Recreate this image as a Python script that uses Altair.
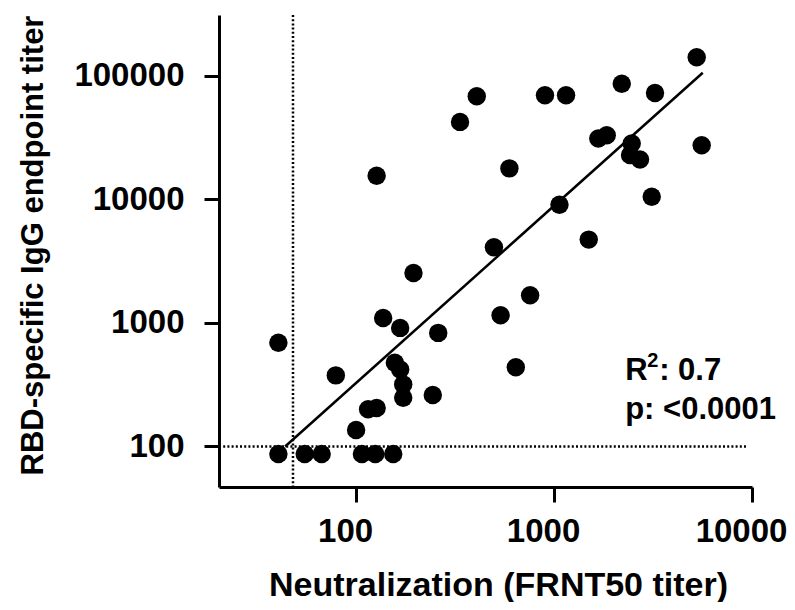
import altair as alt
import pandas as pd

# Neutralization (FRNT50 titer) and RBD-specific IgG endpoint titer
frnt50 = [5256, 2198, 3236, 407, 335, 900, 1150, 1674, 1846, 2468, 2420, 2718,
          5570, 3115, 595, 1065, 1497, 497, 195, 127, 757, 537, 641, 40.5,
          79, 137, 167, 260, 157, 167, 173, 173, 244, 115, 127, 100,
          40.5, 55, 67, 107, 125, 154]
igg = [141000, 86100, 72400, 68100, 42300, 69400, 69400, 31000, 33000, 28300, 22800, 21000,
       27400, 10500, 17800, 9040, 4720, 4090, 2530, 15500, 1676, 1152, 438, 690,
       376, 1097, 911, 830, 476, 420, 318, 248, 261, 200, 205, 136,
       87, 87, 87, 87, 87, 87]

# regression line end points
fit_x = [43.8, 5640]
fit_y = [100, 105700]

# limit-of-detection reference lines
lod_x = [48]
lod_y = [100]
lod_y_xrange = [20.3, 9550]

x_ticks = [100, 1000, 10000]
y_ticks = [100, 1000, 10000, 100000]

# annotation: "R", superscript "2", ": 0.7" on line 1; p-value on line 2
ann_x = 2287
ann_y = [343, 166]
ann_line1 = ["R", "2", ": 0.7"]
ann_line2 = "p: <0.0001"

FONT = "Liberation Sans"

pts = pd.DataFrame({"x": frnt50, "y": igg})
fit = pd.DataFrame({"x": fit_x, "y": fit_y})
vl = pd.DataFrame({"x": lod_x})
hl = pd.DataFrame({"y": lod_y, "x": [lod_y_xrange[0]], "x2": [lod_y_xrange[1]]})
ann = pd.DataFrame({"x": [ann_x], "y1": [ann_y[0]], "y2": [ann_y[1]]})

xscale = alt.Scale(type="log", domain=[20.3, 10000], nice=False)
yscale = alt.Scale(type="log", domain=[47, 310000], nice=False)

xaxis = alt.Axis(values=x_ticks, format="d", title="Neutralization (FRNT50 titer)",
                 labelFlush=False, labelOverlap=False, labelPadding=13, labelOffset=-11,
                 titleFontSize=34, titleX=279, titleY=108,
                 titleBaseline="alphabetic", titleAlign="center")
yaxis = alt.Axis(values=y_ticks, format="d", title="RBD-specific IgG endpoint titer",
                 labelFlush=False, labelOverlap=False, labelPadding=20,
                 titleFontSize=31, titleAngle=270, titleX=-186, titleY=230,
                 titleBaseline="middle", titleAlign="center")

X = alt.X("x:Q", scale=xscale, axis=xaxis)

points = alt.Chart(pts).mark_circle(size=340, color="black", opacity=1).encode(
    x=X, y=alt.Y("y:Q", scale=yscale, axis=yaxis),
)

fitline = alt.Chart(fit).mark_line(color="black", strokeWidth=2.5).encode(
    x=X, y=alt.Y("y:Q", scale=yscale, axis=yaxis),
)

vrule = alt.Chart(vl).mark_rule(color="black", strokeWidth=2.5, strokeDash=[2, 2.2]).encode(
    x=X,
)

hrule = alt.Chart(hl).mark_rule(color="black", strokeWidth=2.5, strokeDash=[2, 2.2]).encode(
    x=X, x2="x2:Q", y=alt.Y("y:Q", scale=yscale, axis=yaxis),
)

txt_style = dict(baseline="alphabetic", fontWeight="bold", font=FONT, color="black")
t_r = alt.Chart(ann).mark_text(align="left", fontSize=31, text=ann_line1[0], **txt_style).encode(
    x=X, y=alt.Y("y1:Q", scale=yscale, axis=yaxis))
t_sup = alt.Chart(ann).mark_text(align="left", fontSize=20, text=ann_line1[1], dx=22, dy=-13,
                                 **txt_style).encode(
    x=X, y=alt.Y("y1:Q", scale=yscale, axis=yaxis))
t_rest = alt.Chart(ann).mark_text(align="left", fontSize=31, text=ann_line1[2], dx=34,
                                  **txt_style).encode(
    x=X, y=alt.Y("y1:Q", scale=yscale, axis=yaxis))
t_p = alt.Chart(ann).mark_text(align="left", fontSize=31, text=ann_line2, **txt_style).encode(
    x=X, y=alt.Y("y2:Q", scale=yscale, axis=yaxis))

chart = alt.layer(vrule, hrule, fitline, points, t_r, t_sup, t_rest, t_p).properties(
    width=533, height=472,
    autosize=alt.AutoSizeParams(type="none"),
    padding={"left": 211, "top": 7, "right": 35, "bottom": 115},
).configure_view(stroke=None).configure_axis(
    grid=False,
    domainColor="black", domainWidth=3,
    tickColor="black", tickWidth=3, tickSize=15,
    labelFont=FONT, labelFontSize=33, labelFontWeight="bold", labelColor="black",
    titleFont=FONT, titleFontWeight="bold", titleColor="black",
)

chart.save("out.html", embed_options={"renderer": "svg", "actions": False})
